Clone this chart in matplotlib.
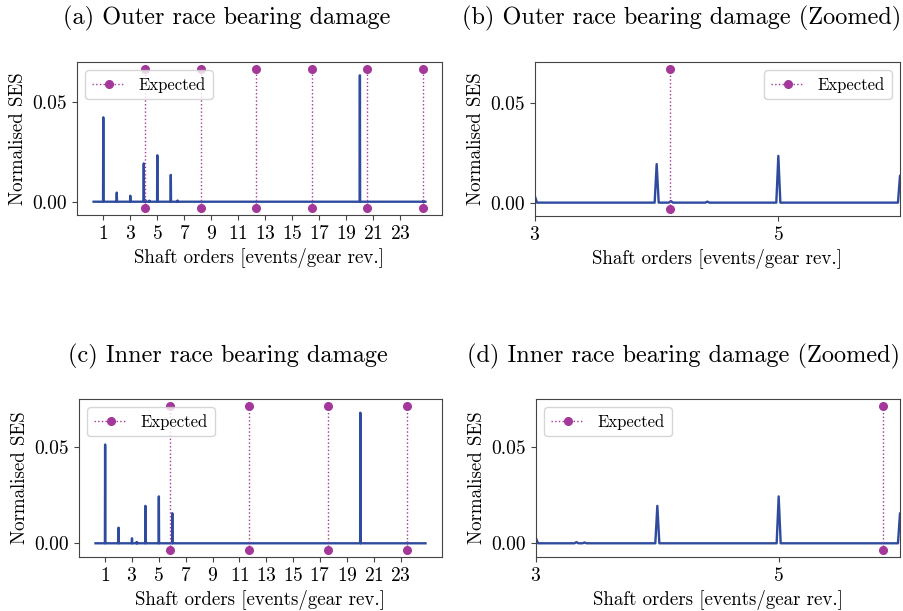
import matplotlib
matplotlib.use("Agg")
import matplotlib.pyplot as plt
import numpy as np

plt.rcParams['font.family'] = ['cmr10', 'DejaVu Serif']
plt.rcParams['mathtext.fontset'] = 'cm'
plt.rcParams['axes.formatter.use_mathtext'] = True

# spectrum grid (shaft orders), resolution 1/60 order
res = 60
orders = np.arange(17, 1492) / res

# peaks: order, normalised SES
outer_peak_orders = [1, 2, 3, 4, 5, 6, 20, 3.0, 4.12, 4.42, 6.5, 24.7]
outer_peak_vals = [0.0425, 0.0046, 0.0030, 0.0193, 0.0234, 0.0135, 0.0637,
                   0.0030, 0.0008, 0.0005, 0.0006, 0.0004]
inner_peak_orders = [1, 2, 3, 4, 5, 6, 20, 3.33, 3.4, 23.5]
inner_peak_vals = [0.0512, 0.0081, 0.0026, 0.0194, 0.0243, 0.0156, 0.0677,
                   0.0006, 0.0004, 0.0004]

bpfo = 4.11   # outer race fault order
bpfi = 5.86   # inner race fault order
outer_harmonics = [1, 2, 3, 4, 5, 6]
inner_harmonics = [1, 2, 3, 4]

sig_color = '#2f4b9e'
exp_color = '#a3379a'


def make_ses(peak_orders, peak_vals):
    y = np.zeros(len(orders))
    for o, v in zip(peak_orders, peak_vals):
        i = int(round(o * res)) - 17
        y[i] = max(y[i], v)
    return y


ses_outer = make_ses(outer_peak_orders, outer_peak_vals)
ses_inner = make_ses(inner_peak_orders, inner_peak_vals)


def draw(ax, ses, f_fault, harmonics, zoom, legend_loc):
    ax.plot(orders, ses, color=sig_color, lw=1.7)
    top = 1.05 * ses.max()
    bot = -0.05 * ses.max()
    for k, n in enumerate(harmonics):
        ax.plot([n * f_fault, n * f_fault], [bot, top], ':', marker='o',
                color=exp_color, lw=1, ms=5.5,
                label='Expected' if k == 0 else None)
    ax.set_xticks(np.arange(1, 25, 2))
    ax.set_yticks([0, 0.05])
    ax.set_yticklabels(['0.00', '0.05'])
    if zoom:
        ax.set_xlim(3, 6)
    ax.set_xlabel('Shaft orders [events/gear rev.]', fontsize=13.6)
    ax.set_ylabel('Normalised SES', fontsize=13.6)
    ax.tick_params(labelsize=14, color='#444444')
    for s in ax.spines.values():
        s.set_color('#444444')
    ax.legend(loc=legend_loc, fontsize=12)


fig = plt.figure(figsize=(9.04, 6.11), dpi=100)
W, H = 904, 611


def px_axes(l, t, r, b):
    return fig.add_axes([l / W, 1 - b / H, (r - l) / W, (b - t) / H])


ax_a = px_axes(77, 62, 442, 215)
ax_b = px_axes(535, 62, 900, 216)
ax_c = px_axes(79, 399, 442, 557)
ax_d = px_axes(536, 399, 900, 557)

draw(ax_a, ses_outer, bpfo, outer_harmonics, False, 'upper left')
draw(ax_b, ses_outer, bpfo, outer_harmonics, True, 'upper right')
draw(ax_c, ses_inner, bpfi, inner_harmonics, False, 'upper left')
draw(ax_d, ses_inner, bpfi, inner_harmonics, True, 'upper left')

titles = [(63, 18, '(a) Outer race bearing damage'),
          (462, 18, '(b) Outer race bearing damage (Zoomed)'),
          (68, 356, '(c) Inner race bearing damage'),
          (467, 356, '(d) Inner race bearing damage (Zoomed)')]
for x, y, t in titles:
    fig.text(x / W, 1 - y / H, t, fontsize=17.5, ha='left', va='center')

fig.savefig('out.png', dpi=100)
